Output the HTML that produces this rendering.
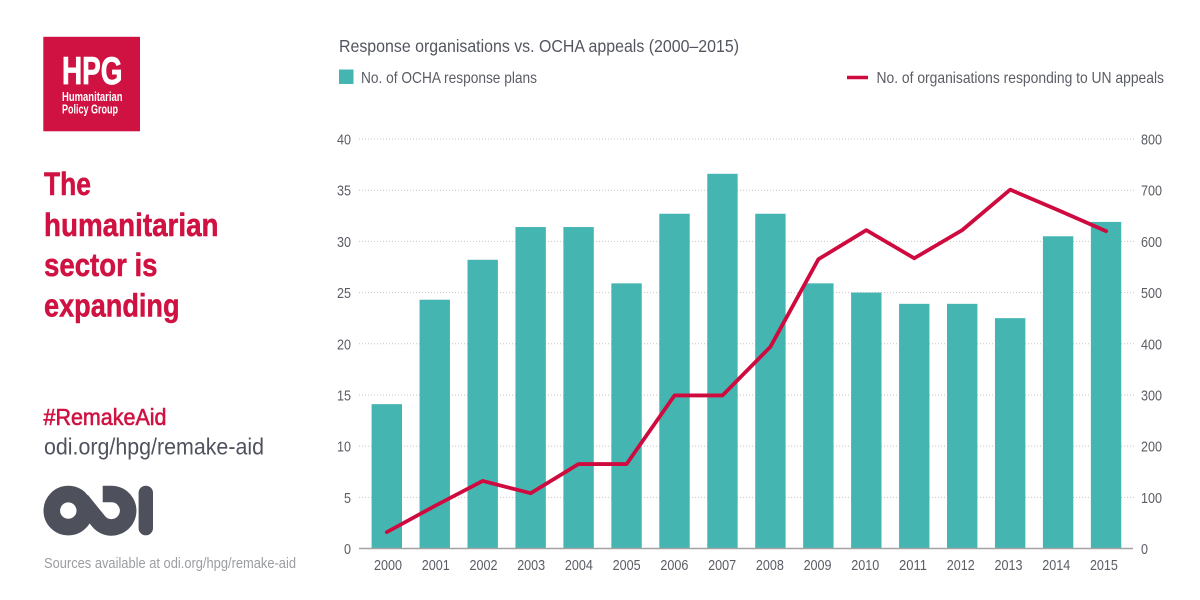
<!DOCTYPE html>
<html lang="en">
<head>
<meta charset="utf-8">
<title>Response organisations vs. OCHA appeals</title>
<style>
  html, body { margin: 0; padding: 0; background: #fff; }
  body { width: 1200px; height: 600px; overflow: hidden; }
  svg { display: block; font-family: "Liberation Sans", sans-serif; }
</style>
</head>
<body>
<svg id="chart" xmlns="http://www.w3.org/2000/svg" width="1200" height="600" viewBox="0 0 1200 600">
  <rect width="1200" height="600" fill="#fff"/>

  <g>
    <rect x="43.3" y="36.8" width="96.7" height="94.5" fill="#cf1241"/>
    <text x="62" y="84" font-size="39" font-weight="700" fill="#fff" stroke="#fff" stroke-width="0.8" textLength="60.5" lengthAdjust="spacingAndGlyphs">HPG</text>
    <text x="62" y="101" font-size="12.5" font-weight="700" fill="#fff" textLength="60.5" lengthAdjust="spacingAndGlyphs">Humanitarian</text>
    <text x="62" y="113.5" font-size="12.5" font-weight="700" fill="#fff" textLength="56" lengthAdjust="spacingAndGlyphs">Policy Group</text>
  </g>

  <g font-size="32" font-weight="700" fill="#cf1241" stroke="#cf1241" stroke-width="0.5">
    <text x="44" y="195" textLength="47" lengthAdjust="spacingAndGlyphs">The</text>
    <text x="44" y="236" textLength="174.5" lengthAdjust="spacingAndGlyphs">humanitarian</text>
    <text x="44" y="276" textLength="113.5" lengthAdjust="spacingAndGlyphs">sector is</text>
    <text x="44" y="316.5" textLength="135.5" lengthAdjust="spacingAndGlyphs">expanding</text>
  </g>

  <text x="43.5" y="425" font-size="23" font-weight="400" fill="#cf1241" stroke="#cf1241" stroke-width="0.6" textLength="123" lengthAdjust="spacingAndGlyphs">#RemakeAid</text>
  <a>
    <text x="44" y="454.5" font-size="23.5" fill="#4f525c" textLength="220" lengthAdjust="spacingAndGlyphs">odi.org/hpg/remake-aid</text>
  </a>

  <g>
    <circle cx="68.3" cy="510.6" r="16.5" fill="none" stroke="#4e515b" stroke-width="16.6"/>
    <path d="M102.7 494 H111.7 A16.7 16.7 0 1 1 98.7 521.5 L81.5 500.2" fill="none" stroke="#4e515b" stroke-width="16.6"/>
    <rect x="138.6" y="485.7" width="14.4" height="49.6" rx="7.2" fill="#4e515b"/>
  </g>

  <text x="44" y="568" font-size="14.5" fill="#9b9da1" textLength="252" lengthAdjust="spacingAndGlyphs">Sources available at odi.org/hpg/remake-aid</text>

  <text x="339" y="52" font-size="17.5" fill="#53565f" textLength="400" lengthAdjust="spacingAndGlyphs">Response organisations vs. OCHA appeals (2000–2015)</text>

  <g>
    <rect x="339" y="69.5" width="14.5" height="14.5" fill="#45b5b2"/>
    <text x="361" y="83" font-size="16" fill="#5b5d65" textLength="176" lengthAdjust="spacingAndGlyphs">No. of OCHA response plans</text>
    <line x1="847" y1="77.5" x2="868" y2="77.5" stroke="#cf0a3e" stroke-width="3.5"/>
    <text x="876.5" y="83" font-size="16" fill="#5b5d65" textLength="287.5" lengthAdjust="spacingAndGlyphs">No. of organisations responding to UN appeals</text>
  </g>

  <g id="grid"></g>
  <g id="bars"></g>
  <line x1="359" y1="548.5" x2="1133" y2="548.5" stroke="#a3a3a3" stroke-width="1.5"/>
  <g id="leftTicks"></g>
  <g id="rightTicks"></g>
  <g id="xTicks"></g>
  <g id="lineLayer"></g>
</svg>

<script>
var years = ["2000","2001","2002","2003","2004","2005","2006","2007","2008","2009","2010","2011","2012","2013","2014","2015"];
var responsePlans = [14.1,24.3,28.2,31.4,31.4,25.9,32.7,36.6,32.7,25.9,25,23.9,23.9,22.5,30.5,31.9];
var organisations = [32,83,132,108,165,165,299,299,394,565,622,567,622,701,661,620];
var leftTickValues = [0,5,10,15,20,25,30,35,40];
var rightTickValues = [0,100,200,300,400,500,600,700,800];

var NS = "http://www.w3.org/2000/svg";
var plotBottom = 548.5, plotTop = 139, firstBand = 386.8, bandStep = 47.95, barWidth = 30.4;
var firstLabel = 388, labelStep = 47.73;
var leftMax = 40, rightMax = 800;

function xPos(i) { return firstBand + i * bandStep; }
function labelX(i) { return firstLabel + i * labelStep; }
function yLeft(v) { return plotBottom - (v / leftMax) * (plotBottom - plotTop); }
function yRight(v) { return plotBottom - (v / rightMax) * (plotBottom - plotTop); }
function make(tag, parent, attrs) {
  var el = document.createElementNS(NS, tag);
  for (var k in attrs) { el.setAttribute(k, attrs[k]); }
  parent.appendChild(el);
  return el;
}
function makeLabel(parent, x, y, anchor, value) {
  var s = String(value);
  var el = make("text", parent, {
    x: x, y: y, "text-anchor": anchor, "font-size": 14.5, fill: "#5b5d65",
    textLength: 7 * s.length, lengthAdjust: "spacingAndGlyphs"
  });
  el.textContent = s;
  return el;
}

var grid = document.getElementById("grid");
leftTickValues.forEach(function (v) {
  if (v === 0) { return; }
  var ln = make("line", grid, {
    x1: 359, x2: 1134, y1: yLeft(v), y2: yLeft(v),
    stroke: "#c4c4c4", "stroke-width": 1, "stroke-dasharray": "1 2"
  });
  
  
});

var barsG = document.getElementById("bars");
responsePlans.forEach(function (v, i) {
  var r = make("rect", barsG, {
    x: xPos(i) - barWidth / 2, y: yLeft(v), width: barWidth,
    height: plotBottom - yLeft(v), fill: "#45b5b2"
  });
  
  
});

var leftG = document.getElementById("leftTicks");
leftTickValues.forEach(function (v) {
  var t = makeLabel(leftG, 351, yLeft(v) + 5.5, "end", v);
  
  
});

var rightG = document.getElementById("rightTicks");
rightTickValues.forEach(function (v) {
  var t = makeLabel(rightG, 1141, yRight(v) + 5.5, "start", v);
  
  
});

var xG = document.getElementById("xTicks");
years.forEach(function (y, i) {
  var t = makeLabel(xG, labelX(i), 570, "middle", y);
  
  
});

var lineG = document.getElementById("lineLayer");
var pts = organisations.map(function (v, i) { return xPos(i).toFixed(2) + "," + yRight(v).toFixed(2); }).join(" ");
var poly = make("polyline", lineG, {
  points: pts, fill: "none", stroke: "#cf0a3e", "stroke-width": 3.8, "stroke-linejoin": "round", "stroke-linecap": "round"
});


</script>
</body>
</html>
